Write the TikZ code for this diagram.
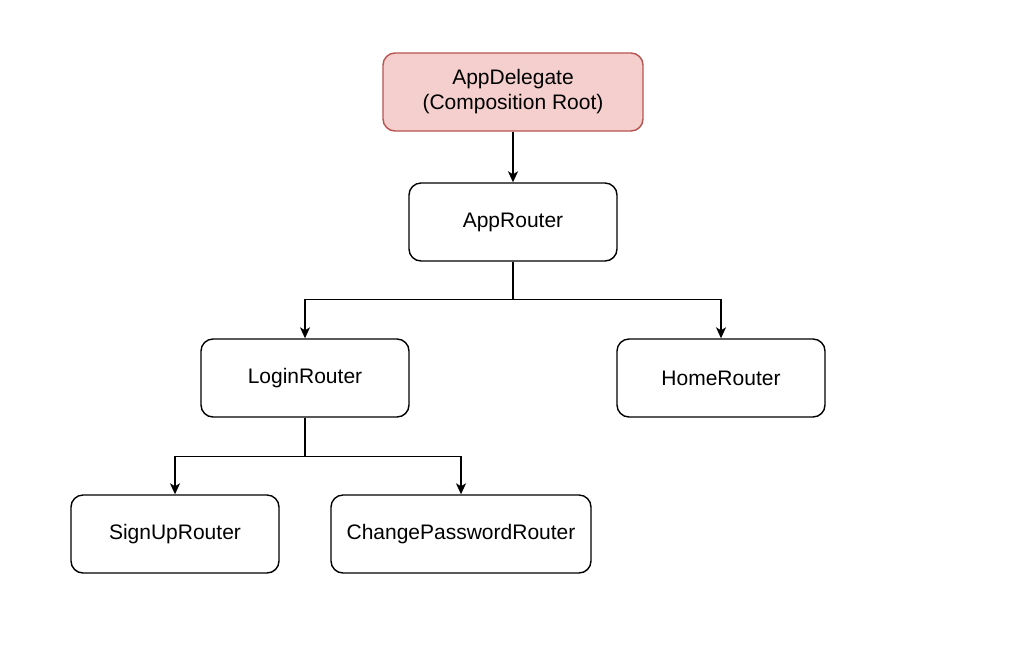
\documentclass[tikz,border=0pt]{standalone}
\usepackage{fontspec}
\setmainfont{Liberation Sans}
\usetikzlibrary{arrows.meta,calc}
\definecolor{rootfill}{HTML}{F4CFCE}
\definecolor{rootdraw}{HTML}{B85450}
\tikzset{
    router/.style = {rectangle,
                    rounded corners=6pt,
                    fill=white,
                    draw=black,
                    text=black,
                    line width=0.7pt,
                    align=center,
                    font=\fontsize{10.5}{12.5}\selectfont,
                    minimum width=104pt,
                    minimum height=39pt},
    root/.style =   {router,
                    fill=rootfill,
                    draw=rootdraw,
                    minimum width=130pt},
    wide/.style =   {router,
                    minimum width=130pt},
    -,
    >={Stealth[length=5.5pt,width=5pt,inset=1.5pt]},
    link/.style = {line width=0.7pt, draw=black, ->}}
\begin{document}
\begin{tikzpicture}[x=0.5pt,y=-0.5pt]
            \useasboundingbox (0,0) rectangle (1028,644);
            \node[root]     (AD) at (513,92)   {AppDelegate\\(Composition Root)};
            \node[router]   (AR) at (513,222)  {AppRouter};
            \node[router]   (LR) at (305,378)  {LoginRouter};
            \node[router]   (HR) at (721,378)  {HomeRouter};
            \node[router]   (SR) at (175,534)  {SignUpRouter};
            \node[wide]     (CR) at (461,534)  {ChangePasswordRouter};
            % tree edges
            \draw [link] (AD) -- (AR);
            \draw [link] (AR.south) -- ++(0,38) -| (LR.north);
            \draw [link] (AR.south) -- ++(0,38) -| (HR.north);
            \draw [link] (LR.south) -- ++(0,39) -| (SR.north);
            \draw [link] (LR.south) -- ++(0,39) -| (CR.north);
        \end{tikzpicture}
\end{document}
